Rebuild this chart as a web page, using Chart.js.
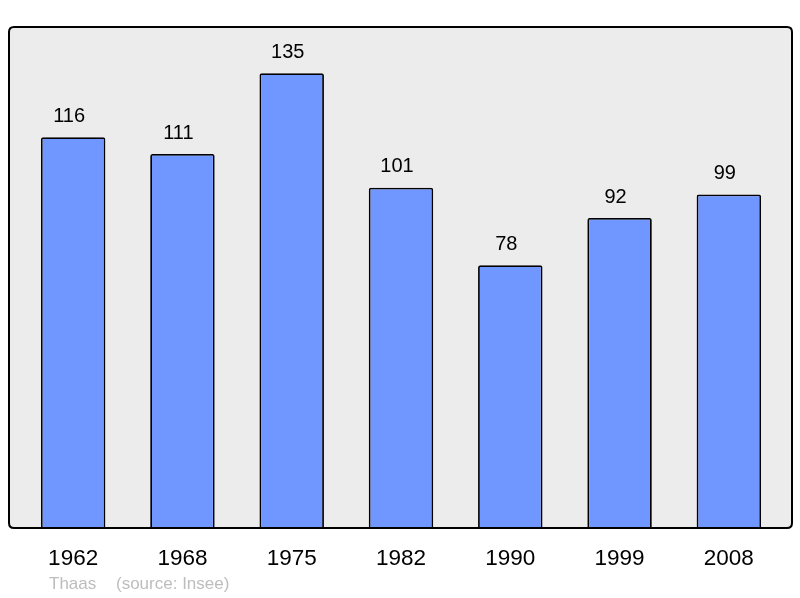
<!DOCTYPE html>
<html>
<head>
<meta charset="utf-8">
<script src="https://cdn.jsdelivr.net/npm/chart.js@4"></script>
<style>
  html, body { margin: 0; padding: 0; background: #fff; }
  #wrap { width: 800px; height: 598px; }
</style>
</head>
<body>
<div id="wrap"><canvas id="popChart" width="800" height="598"></canvas></div>
<script>
const years = ["1962", "1968", "1975", "1982", "1990", "1999", "2008"];
const population = [116, 111, 135, 101, 78, 92, 99];
const commune = "Thaas";
const source = "(source: Insee)";

function roundRect(ctx, x, y, w, h, r) {
  ctx.beginPath();
  ctx.moveTo(x + r, y);
  ctx.lineTo(x + w - r, y);
  ctx.quadraticCurveTo(x + w, y, x + w, y + r);
  ctx.lineTo(x + w, y + h - r);
  ctx.quadraticCurveTo(x + w, y + h, x + w - r, y + h);
  ctx.lineTo(x + r, y + h);
  ctx.quadraticCurveTo(x, y + h, x, y + h - r);
  ctx.lineTo(x, y + r);
  ctx.quadraticCurveTo(x, y, x + r, y);
  ctx.closePath();
}

// gray plot frame, behind and over the bars
const framePlugin = {
  id: "frame",
  beforeDatasetsDraw(chart) {
    const { ctx, chartArea } = chart;
    ctx.save();
    roundRect(ctx, 9, chartArea.top, 783, chartArea.bottom - chartArea.top, 5);
    ctx.fillStyle = "#ececec";
    ctx.fill();
    ctx.restore();
  },
  afterDatasetsDraw(chart) {
    const { ctx, chartArea } = chart;
    ctx.save();
    roundRect(ctx, 9, chartArea.top, 783, chartArea.bottom - chartArea.top, 5);
    ctx.lineWidth = 2;
    ctx.strokeStyle = "#000";
    ctx.stroke();

    // values above bars
    const meta = chart.getDatasetMeta(0);
    ctx.fillStyle = "#000";
    ctx.font = "20px 'Liberation Sans', Arial, sans-serif";
    ctx.textAlign = "center";
    ctx.textBaseline = "middle";
    meta.data.forEach((bar, i) => {
      ctx.fillText(String(population[i]), bar.x - 4, bar.y - 21);
    });

    // footer
    ctx.fillStyle = "#bdbdbd";
    ctx.font = "17px 'Liberation Sans', Arial, sans-serif";
    ctx.textAlign = "left";
    ctx.fillText(commune, 49, 584);
    ctx.fillText(source, 116, 584);
    ctx.restore();
  }
};

new Chart(document.getElementById("popChart"), {
  type: "bar",
  data: {
    labels: years,
    datasets: [{
      data: population,
      backgroundColor: "#7096ff",
      borderColor: "#000",
      borderWidth: 1.8,
      borderRadius: 2,
      borderSkipped: "bottom",
      barPercentage: 0.59,
      categoryPercentage: 1
    }]
  },
  options: {
    responsive: false,
    animation: false,
    layout: { padding: { left: 18.5, right: 16.5, top: 27, bottom: 0 } },
    plugins: { legend: { display: false }, tooltip: { enabled: false } },
    scales: {
      x: {
        grid: { display: false },
        border: { display: false },
        ticks: {
          color: "#000",
          padding: 9,
          font: { size: 22.5, family: "'Liberation Sans', Arial, sans-serif" }
        },
        afterFit(scale) { scale.height = 70; }
      },
      y: {
        display: false,
        min: 0,
        max: 148.7
      }
    }
  },
  plugins: [framePlugin]
});
</script>
</body>
</html>
